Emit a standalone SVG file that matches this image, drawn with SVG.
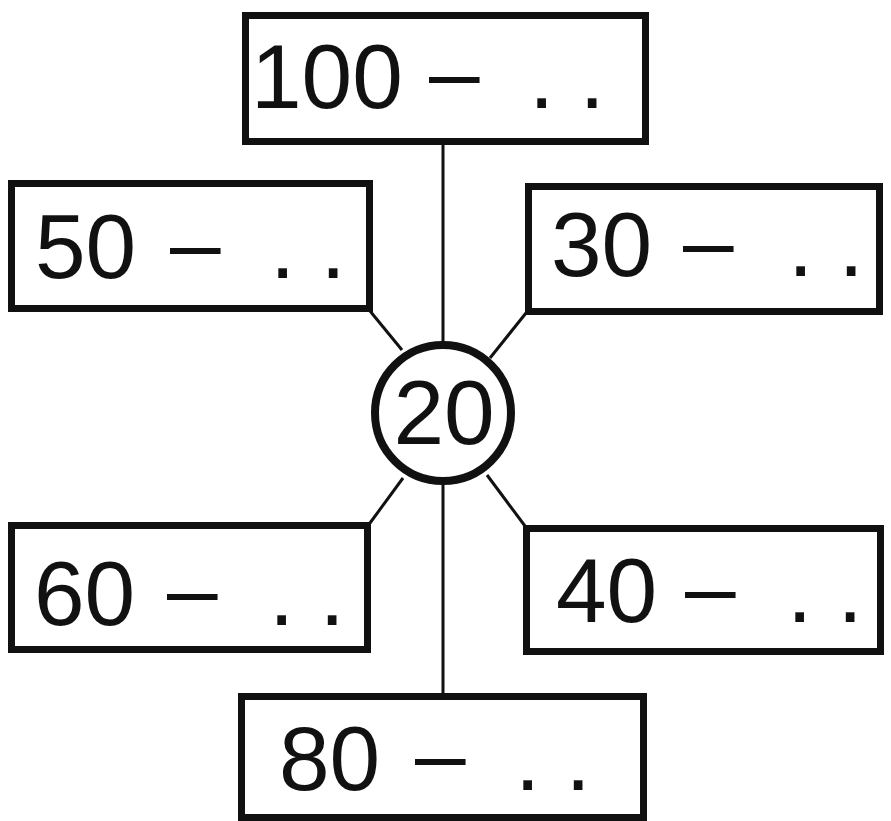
<svg xmlns="http://www.w3.org/2000/svg" width="891" height="821" viewBox="0 0 891 821">
<style>
.box{fill:#fff;stroke:#111;stroke-width:7}
.ring{fill:#fff;stroke:#111;stroke-width:8}
.lbl{font-family:"Liberation Sans",Arial,sans-serif;font-size:91px;fill:#111}
.link{stroke:#111;stroke-width:3;fill:none}
</style>
<rect width="891" height="821" fill="#fff"/>
<g id="connectors">
<line class="link" x1="443" y1="145" x2="443" y2="345"/>
<line class="link" x1="370" y1="311" x2="402" y2="350"/>
<line class="link" x1="526" y1="313" x2="490" y2="358"/>
<line class="link" x1="403" y1="478" x2="370" y2="523"/>
<line class="link" x1="487" y1="475" x2="525" y2="526"/>
<line class="link" x1="443" y1="481" x2="443" y2="694"/>
</g>
<g id="node-100">
<rect class="box" x="245.5" y="15.5" width="400" height="126"/>
<text class="lbl" y="108"><tspan x="251">100 </tspan><tspan x="429" dy="-5">– </tspan><tspan x="529" dy="5">. .</tspan></text>
</g>
<g id="node-50">
<rect class="box" x="11.5" y="183.5" width="358" height="125"/>
<text class="lbl" y="278"><tspan x="35">50 </tspan><tspan x="170" dy="-4">– </tspan><tspan x="270" dy="4">. .</tspan></text>
</g>
<g id="node-30">
<rect class="box" x="528.5" y="186.5" width="351" height="125"/>
<text class="lbl" y="276"><tspan x="551">30 </tspan><tspan x="683" dy="-4">– </tspan><tspan x="788" dy="4">. .</tspan></text>
</g>
<g id="node-20">
<circle class="ring" cx="443" cy="413" r="68"/>
<text class="lbl" x="444" y="444" text-anchor="middle">20</text>
</g>
<g id="node-60">
<rect class="box" x="11.5" y="525.5" width="356" height="124"/>
<text class="lbl" y="625"><tspan x="34">60 </tspan><tspan x="167" dy="-5">– </tspan><tspan x="269" dy="5">. .</tspan></text>
</g>
<g id="node-40">
<rect class="box" x="526.5" y="528.5" width="354" height="123"/>
<text class="lbl" y="622"><tspan x="556">40 </tspan><tspan x="685" dy="-4">– </tspan><tspan x="787" dy="4">. .</tspan></text>
</g>
<g id="node-80">
<rect class="box" x="241.5" y="696.5" width="402" height="121"/>
<text class="lbl" y="790"><tspan x="279">80 </tspan><tspan x="415" dy="-5">– </tspan><tspan x="515" dy="5">. .</tspan></text>
</g>
</svg>
